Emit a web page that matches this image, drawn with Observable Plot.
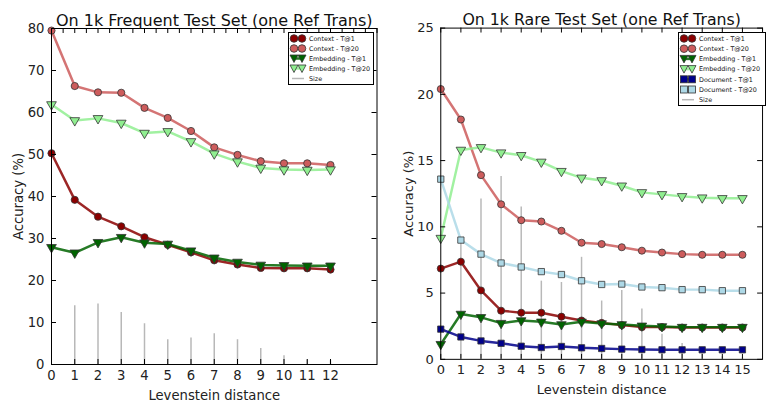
<!DOCTYPE html>
<html><head><meta charset="utf-8">
<script src="https://cdn.jsdelivr.net/npm/d3@7"></script>
<script src="https://cdn.jsdelivr.net/npm/@observablehq/plot@0.6"></script>
<style>
html,body{margin:0;padding:0;background:#fff;overflow:hidden;width:766px;height:401px;}
#wrap{position:relative;width:766px;height:401px;font-family:"DejaVu Sans",sans-serif;}
.panel{position:absolute;top:0;}
.legend{position:absolute;border:1.3px solid #000;background:#fff;box-sizing:border-box;}
</style></head><body><div id="wrap"></div>
<script>
// ---------- data ----------
const distL = [0,1,2,3,4,5,6,7,8,9,10,11,12];
const ctxT1L = [50.3,39.2,35.2,32.9,30.3,28.5,26.7,24.8,23.8,23.0,22.9,22.9,22.6];
const ctxT20L = [79.5,66.3,64.8,64.7,61.1,58.7,55.6,51.7,49.9,48.4,47.9,47.9,47.5];
const embT1L = [27.9,26.6,29.1,30.3,29.0,28.7,27.1,25.4,24.4,23.7,23.6,23.5,23.5];
const embT20L = [61.9,58.1,58.6,57.5,55.1,55.5,53.1,50.2,48.3,46.8,46.4,46.3,46.4];
const sizeL = [0,14.0,14.4,12.4,9.7,5.9,6.3,7.3,5.9,3.8,2.1,1.1,0.9];

const distR = [0,1,2,3,4,5,6,7,8,9,10,11,12,13,14,15];
const ctxT1R = [6.85,7.37,5.2,3.67,3.52,3.52,3.22,2.93,2.75,2.58,2.43,2.43,2.4,2.4,2.4,2.4];
const ctxT20R = [20.4,18.1,13.9,11.7,10.5,10.4,9.7,8.8,8.7,8.46,8.2,8.06,7.94,7.89,7.89,7.89];
const embT1R = [1.14,3.42,3.17,2.73,2.93,2.83,2.63,2.83,2.7,2.63,2.53,2.48,2.43,2.43,2.43,2.43];
const embT20R = [9.15,15.8,16.0,15.6,15.4,14.9,14.2,13.7,13.5,13.1,12.6,12.45,12.3,12.2,12.15,12.15];
const docT1R = [2.28,1.69,1.39,1.21,0.99,0.89,0.97,0.87,0.82,0.77,0.74,0.72,0.72,0.72,0.72,0.72];
const docT20R = [13.6,9.0,7.94,7.27,6.97,6.62,6.4,5.93,5.65,5.68,5.46,5.41,5.26,5.26,5.18,5.18];
const sizeR = [0,9.2,12.1,13.8,11.5,5.9,5.8,7.7,4.4,5.2,3.8,1.9,1.2,0.4,0.2,0.1];

const yTicksL = [0,10,20,30,40,50,60,70,80];
const yTicksR = [0,5,10,15,20,25];
const titleL = "On 1k Frequent Test Set (one Ref Trans)";
const titleR = "On 1k Rare Test Set (one Ref Trans)";
const xLabel = "Levenstein distance";
const yLabel = "Accuracy (%)";

const styles = {
  ctxT1: {label:"Context - T@1", color:"#8b0000", symbol:"circle"},
  ctxT20:{label:"Context - T@20", color:"#cd5c5c", symbol:"circle"},
  embT1: {label:"Embedding - T@1", color:"#006400", symbol:"triangle"},
  embT20:{label:"Embedding - T@20", color:"#90ee90", symbol:"triangle"},
  docT1: {label:"Document - T@1", color:"#00008b", symbol:"square"},
  docT20:{label:"Document - T@20", color:"#add8e6", symbol:"square"}
};

function seriesMarks(dist, vals, st) {
  const data = dist.map((d,i)=>({x:d, y:vals[i]}));
  const tri = st.symbol === "triangle";
  return [
    Plot.line(data, {x:"x", y:"y", stroke:st.color, strokeWidth:2.5, strokeOpacity:0.85}),
    Plot.dot(data, {x:"x", y:"y", fill:st.color, stroke:"#333", strokeWidth:0.8,
      symbol: st.symbol, r: 3.6, rotate: tri ? 180 : 0})
  ];
}

function panel({dist, series, size, xDomain, yDomain, yTicks, xTicks, topTicks, title, innerW}) {
  const H = 401, mt = 28, mb = 37, ml = 51, mr = 4;
  const innerH = H - mt - mb;
  const kx = (xDomain[1]-xDomain[0]) / innerW;
  const ky = (yDomain[1]-yDomain[0]) / innerH;
  const tl = 5; // tick length in px
  const sizeData = dist.map((d,i)=>({x:d, s:size[i]})).filter(d=>d.s>0);
  const marks = [
    Plot.ruleX(sizeData, {x:"x", y1:0, y2:"s", stroke:"#b8b8b8", strokeWidth:1.5}),
  ];
  for (const [vals, st] of series) marks.push(...seriesMarks(dist, vals, st));
  marks.push(
    Plot.frame({stroke:"#000", strokeWidth:1}),
    // inward ticks
    Plot.ruleX(xTicks, {x:d=>d, y1:yDomain[0], y2:yDomain[0]+tl*ky, stroke:"#000"}),
    Plot.ruleX(topTicks, {x:d=>d, y1:yDomain[1]-tl*ky, y2:yDomain[1], stroke:"#000"}),
    Plot.ruleY(yTicks, {y:d=>d, x1:xDomain[0], x2:xDomain[0]+tl*kx, stroke:"#000"}),
    Plot.ruleY(yTicks, {y:d=>d, x1:xDomain[1]-tl*kx, x2:xDomain[1], stroke:"#000"}),
    Plot.axisX(xTicks, {anchor:"bottom", tickSize:0, tickPadding:6, fontSize:13.2, fill:"#222",
      label:xLabel, labelAnchor:"center", labelOffset:35, labelArrow:"none"}),
    Plot.axisY(yTicks, {anchor:"left", tickSize:0, tickPadding:7, fontSize:13.2, fill:"#222",
      label:yLabel, labelAnchor:"center", labelOffset:38, labelArrow:"none"}),
    Plot.text([title], {text:d=>d, frameAnchor:"top", dy:-14, fontSize:16, fill:"#111"})
  );
  return Plot.plot({
    width: ml + innerW + mr, height: H, marginTop: mt, marginBottom: mb, marginLeft: ml, marginRight: mr,
    x: {domain: xDomain, axis: null}, y: {domain: yDomain, axis: null},
    style: {fontFamily:"DejaVu Sans", fontSize:"13.2px", color:"#222", background:"transparent", overflow:"visible"},
    marks
  });
}

function legend(items, left, top, w, h, rowStart, rowStep) {
  const div = document.createElement("div");
  div.className = "legend";
  Object.assign(div.style, {left:left+"px", top:top+"px", width:w+"px", height:h+"px"});
  const ns = "http://www.w3.org/2000/svg";
  const svg = document.createElementNS(ns, "svg");
  svg.setAttribute("width", w); svg.setAttribute("height", h);
  svg.style.position = "absolute"; svg.style.left = "-1px"; svg.style.top = "-1px"; svg.style.overflow="visible";
  let html = "";
  items.forEach((it, i) => {
    const y = rowStart + i*rowStep;
    const x1 = 6, x2 = 14;
    if (!it.symbol) {
      html += `<line x1="${x1-2}" x2="${x2+2}" y1="${y}" y2="${y}" stroke="#b8b8b8" stroke-width="1.5"/>`;
    } else {
      html += `<line x1="${x1}" x2="${x2}" y1="${y}" y2="${y}" stroke="${it.color}" stroke-width="2.5" stroke-opacity="0.85"/>`;
      for (const x of [x1, x2]) {
        if (it.symbol === "circle") html += `<circle cx="${x}" cy="${y}" r="3.8" fill="${it.color}" stroke="#333" stroke-width="0.8"/>`;
        else if (it.symbol === "square") html += `<rect x="${x-3.5}" y="${y-3.5}" width="7" height="7" fill="${it.color}" stroke="#333" stroke-width="0.8"/>`;
        else html += `<path d="M${x-4},${y-3.5}L${x+4},${y-3.5}L${x},${y+4}Z" fill="${it.color}" stroke="#333" stroke-width="0.8"/>`;
      }
    }
    html += `<text x="21" y="${y}" dy="0.35em" font-size="6.4" font-family="DejaVu Sans" fill="#111">${it.label}</text>`;
  });
  svg.innerHTML = html;
  div.appendChild(svg);
  return div;
}

const wrap = document.getElementById("wrap");
const half = d3.range(0, 14.01, 0.5);
const pL = panel({dist:distL, series:[[ctxT1L,styles.ctxT1],[ctxT20L,styles.ctxT20],[embT1L,styles.embT1],[embT20L,styles.embT20]],
  size:sizeL, xDomain:[0,14], yDomain:[0,80], yTicks:yTicksL, xTicks:distL, topTicks:half, title:titleL, innerW:325.5});
const dL = document.createElement("div"); dL.className="panel"; dL.style.left="0px"; dL.appendChild(pL); wrap.appendChild(dL);

const pR = panel({dist:distR, series:[[ctxT1R,styles.ctxT1],[ctxT20R,styles.ctxT20],[embT1R,styles.embT1],[embT20R,styles.embT20],[docT1R,styles.docT1],[docT20R,styles.docT20]],
  size:sizeR, xDomain:[0,16], yDomain:[0,25], yTicks:yTicksR, xTicks:distR, topTicks:d3.range(0,17), title:titleR, innerW:326.4});
const dR = document.createElement("div"); dR.className="panel"; dR.style.left="390px"; dR.appendChild(pR); wrap.appendChild(dR);

const sizeItem = {label:"Size"};
wrap.appendChild(legend([styles.ctxT1,styles.ctxT20,styles.embT1,styles.embT20,sizeItem], 288, 32, 86, 53, 6.5, 10));
wrap.appendChild(legend([styles.ctxT1,styles.ctxT20,styles.embT1,styles.embT20,styles.docT1,styles.docT20,sizeItem], 678, 32, 88, 74, 6.5, 10.2));
</script></body></html>
